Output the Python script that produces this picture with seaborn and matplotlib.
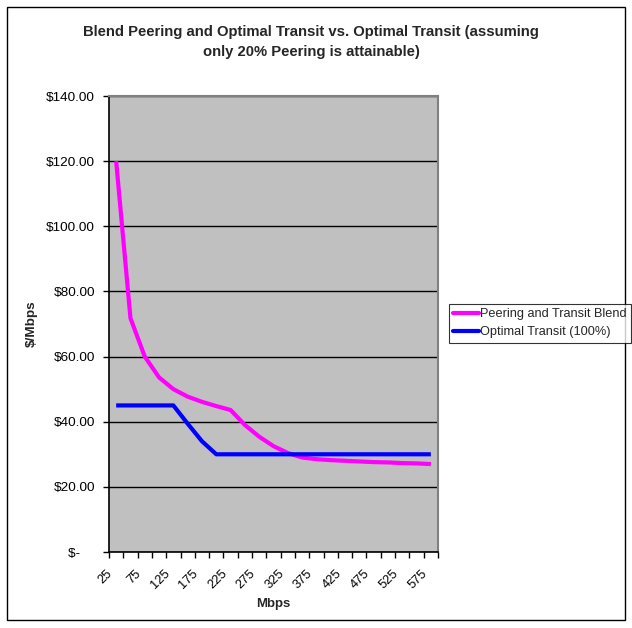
import matplotlib
matplotlib.use("Agg")
import matplotlib.pyplot as plt
from matplotlib.patches import Rectangle
from matplotlib.ticker import FixedLocator, FuncFormatter
from matplotlib.transforms import ScaledTranslation
import seaborn as sns
import pandas as pd

# Bandwidth commitments (Mbps)
mbps = [25, 50, 75, 100, 125, 150, 175, 200, 225, 250, 275, 300,
        325, 350, 375, 400, 425, 450, 475, 500, 525, 550, 575]

# Cost per Mbps for each scenario
blend_cost = [120.0, 71.8, 60.0, 53.6, 50.0, 47.7, 46.1, 44.8, 43.6, 39.0, 35.4, 32.5,
              30.4, 29.0, 28.5, 28.2, 28.0, 27.8, 27.6, 27.5, 27.3, 27.2, 27.0]
transit_cost = [45.0, 45.0, 45.0, 45.0, 45.0, 39.4, 34.0, 30.0, 30.0, 30.0, 30.0, 30.0,
                30.0, 30.0, 30.0, 30.0, 30.0, 30.0, 30.0, 30.0, 30.0, 30.0, 30.0]

series_names = ["Peering and Transit Blend", "Optimal Transit (100%)"]
series_colors = ["#FF00FF", "#0000FF"]

title_text = "Blend Peering and Optimal Transit vs. Optimal Transit (assuming\nonly 20% Peering is attainable)"

df = pd.concat([
    pd.DataFrame({"Mbps": mbps, "cost": blend_cost, "series": series_names[0]}),
    pd.DataFrame({"Mbps": mbps, "cost": transit_cost, "series": series_names[1]}),
])

sns.set_theme(style="white")
plt.rcParams["font.family"] = ["Liberation Sans", "DejaVu Sans"]

fig = plt.figure(figsize=(6.32, 6.28), dpi=100)
ax = fig.add_axes([109 / 632, 1 - 552 / 628, (438 - 109) / 632, (552 - 96) / 628])

sns.lineplot(data=df, x="Mbps", y="cost", hue="series",
             palette=dict(zip(series_names, series_colors)),
             linewidth=3.0, ax=ax, legend=False, solid_capstyle="butt")

ax.set_facecolor("#C0C0C0")
ax.set_xlim(12.5, 587.5)
ax.set_ylim(0, 140)


def currency(v, pos):
    # accounting style: zero shown as a dash with trailing padding
    return "$-    " if v == 0 else f"${v:,.2f}"


# y axis: currency ticks with horizontal black gridlines
ax.set_yticks(range(0, 141, 20))
ax.yaxis.set_major_formatter(FuncFormatter(currency))
ax.grid(axis="y", color="black", linewidth=1.0)
ax.grid(axis="x", visible=False)

# x axis: labels on every other category, tick marks at category boundaries
ax.xaxis.set_major_locator(FixedLocator(mbps[::2]))
ax.set_xticklabels([str(m) for m in mbps[::2]])
ax.xaxis.set_minor_locator(FixedLocator([12.5 + 25 * k for k in range(len(mbps) + 1)]))
ax.tick_params(axis="x", which="major", length=0, pad=14, labelsize=9.3, colors="black")
ax.tick_params(axis="x", which="minor", length=4, width=1, direction="out", color="black", bottom=True)
ax.tick_params(axis="y", which="major", length=4, width=1, direction="out", color="black",
               left=True, labelsize=9.7, labelcolor="black", pad=6)
shift = ScaledTranslation(-5.5 / 100, 0, fig.dpi_scale_trans)
for lbl in ax.get_xticklabels():
    lbl.set_rotation(45)
    lbl.set_ha("right")
    lbl.set_va("center")
    lbl.set_rotation_mode("anchor")
    lbl.set_transform(lbl.get_transform() + shift)

for side in ["left", "bottom"]:
    ax.spines[side].set_color("black")
    ax.spines[side].set_linewidth(1.2)
for side in ["top", "right"]:
    ax.spines[side].set_color("#808080")
    ax.spines[side].set_linewidth(1.5)
    ax.spines[side].set_visible(True)
ax.set_axisbelow(True)

ax.set_xlabel("Mbps", fontsize=9.5, fontweight="bold", va="center")
ax.xaxis.set_label_coords(0.5, (552 - 604) / 456)
ax.set_ylabel("$/Mbps", fontsize=9.7, fontweight="bold", va="center")
ax.yaxis.set_label_coords((32 - 109) / 329, 0.5)

fig.text(311 / 632, 1 - 42 / 628, title_text, ha="center", va="center",
         fontsize=10.7, fontweight="bold", linespacing=1.5)

handles = [plt.Line2D([], [], color=c, linewidth=3.0) for c in series_colors]
leg = fig.legend(handles, series_names, loc="upper left",
                 bbox_to_anchor=(449 / 632, 1 - 304 / 628), fontsize=9.2,
                 frameon=True, fancybox=False, handlelength=2.0, handletextpad=0.05,
                 borderpad=0.35, labelspacing=0.45, borderaxespad=0)
leg.get_frame().set_edgecolor("black")
leg.get_frame().set_linewidth(0.8)

# outer chart frame
fig.patches.append(Rectangle((7 / 632, 1 - 620 / 628), 618 / 632, 613 / 628,
                             transform=fig.transFigure, fill=False,
                             edgecolor="black", linewidth=1.0))

fig.savefig("out.png", dpi=100, facecolor="white")
